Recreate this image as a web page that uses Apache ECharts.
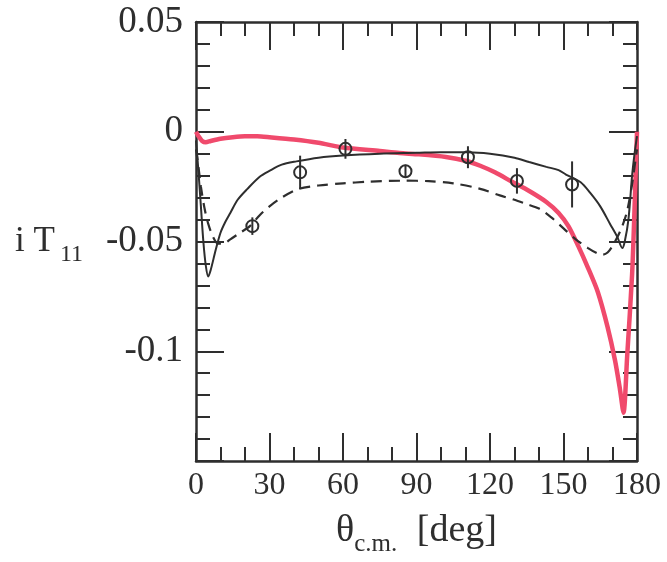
<!DOCTYPE html>
<html>
<head>
<meta charset="utf-8">
<title>iT11 vs theta</title>
<script src="https://cdn.jsdelivr.net/npm/echarts@6/dist/echarts.min.js"></script>
<style>
  html, body { margin: 0; padding: 0; background: #ffffff; }
  #chart { width: 667px; height: 562px; }
</style>
</head>
<body>
<div id="chart"></div>
<script>
// Angles (deg) and iT11 values for the red model curve
const thetaRed = [0, 1, 2.5, 4, 6, 10, 15, 20, 25, 30, 40, 50, 60, 75, 83, 91, 102, 110, 116, 122, 129, 136, 143, 148, 152, 156, 160, 164, 168, 171, 173, 174.5, 176, 178, 179, 180];
const iT11Red  = [0, -0.002, -0.0042, -0.0048, -0.0042, -0.0032, -0.0025, -0.0021, -0.0021, -0.0025, -0.0035, -0.005, -0.0072, -0.0088, -0.0097, -0.0103, -0.0115, -0.0132, -0.0155, -0.0185, -0.0228, -0.027, -0.032, -0.037, -0.043, -0.052, -0.062, -0.073, -0.089, -0.104, -0.117, -0.128, -0.102, -0.065, -0.035, 0];

// Solid black curve
const thetaSolid = [0, 1, 2, 3, 4, 5, 6, 8, 10, 12, 14, 17, 21, 26, 30, 35, 41, 50, 60, 75, 90, 100, 111, 120, 130, 136, 143, 148, 151, 157, 161, 165, 169, 172, 174, 175, 176.5, 178, 179, 180];
const iT11Solid  = [-0.004, -0.018, -0.034, -0.05, -0.061, -0.066, -0.063, -0.054, -0.046, -0.041, -0.037, -0.031, -0.026, -0.0205, -0.0178, -0.015, -0.0135, -0.0118, -0.0108, -0.01, -0.0096, -0.0093, -0.0093, -0.01, -0.0118, -0.0138, -0.016, -0.0175, -0.0195, -0.023, -0.028, -0.034, -0.042, -0.048, -0.053, -0.05, -0.04, -0.02, -0.01, -0.002];

// Dashed black curve
const thetaDashed = [0, 1, 2, 3.5, 5, 7, 9, 11, 14, 18, 22, 26, 30, 35, 42, 50, 60, 70, 85, 95, 105, 116, 124, 130, 135, 140, 145, 150, 155, 160, 164, 166, 168, 170, 172, 174, 176, 178, 179, 180];
const iT11Dashed  = [-0.008, -0.016, -0.025, -0.035, -0.042, -0.048, -0.051, -0.051, -0.049, -0.046, -0.043, -0.038, -0.034, -0.03, -0.026, -0.0245, -0.0235, -0.0228, -0.0223, -0.0225, -0.0235, -0.026, -0.029, -0.031, -0.033, -0.035, -0.039, -0.044, -0.049, -0.053, -0.0555, -0.056, -0.055, -0.052, -0.048, -0.043, -0.036, -0.024, -0.016, -0.008];

// Measured points with errors
const thetaData = [23, 42.5, 61, 85.5, 111, 131, 153.5];
const iT11Data  = [-0.043, -0.0185, -0.0078, -0.018, -0.0116, -0.0224, -0.024];
const iT11Err   = [0.004, 0.0076, 0.0045, 0.003, 0.005, 0.0058, 0.0105];

// Axis tick labels
const xTickStep = 30;
const yTickStep = 0.05;
const yLabelled = [0.05, 0, -0.05, -0.1];

const pairs = (xs, ys) => xs.map((x, i) => [x, ys[i]]);

const serif = '"Liberation Serif", "DejaVu Serif", serif';
const ink = '#2e2e2e';

const frameAxis = {
  axisLine: { show: true, onZero: false, lineStyle: { color: ink, width: 2.5 } },
  axisTick: { show: true, inside: true, length: 28, lineStyle: { color: ink, width: 2 } },
  minorTick: { show: true, length: 14, lineStyle: { color: ink, width: 2 } },
  splitLine: { show: false },
  minorSplitLine: { show: false }
};

const xBase = Object.assign({ type: 'value', min: 0, max: 180, interval: xTickStep }, frameAxis);
xBase.minorTick = Object.assign({}, frameAxis.minorTick, { splitNumber: 3 });
const yBase = Object.assign({ type: 'value', min: -0.15, max: 0.05, interval: yTickStep }, frameAxis);
yBase.minorTick = Object.assign({}, frameAxis.minorTick, { splitNumber: 5 });

const chart = echarts.init(document.getElementById('chart'), null, { renderer: 'canvas' });

chart.setOption({
  backgroundColor: '#ffffff',
  animation: false,
  grid: { left: 196, top: 22, width: 441, height: 439, containLabel: false, outerBoundsMode: 'none' },
  xAxis: [
    Object.assign({}, xBase, {
      position: 'bottom',
      axisLabel: { show: true, margin: 9, color: ink, fontFamily: serif, fontSize: 32 },
      name: 'θ{s|c.m.} [deg]',
      nameLocation: 'middle',
      nameGap: 45,
      nameTextStyle: {
        color: ink, fontFamily: serif, fontSize: 38,
        rich: { s: { fontFamily: serif, fontSize: 25, color: ink, padding: [26, 10, 0, 0] } }
      }
    }),
    Object.assign({}, xBase, { position: 'top', axisLabel: { show: false } })
  ],
  yAxis: [
    Object.assign({}, yBase, {
      position: 'left',
      axisLabel: {
        show: true, margin: 13, color: ink, fontFamily: serif, fontSize: 37,
        formatter: v => {
          const r = Math.round(v * 100) / 100;
          return yLabelled.some(t => Math.abs(t - r) < 1e-9) ? String(r) : '';
        }
      },
      name: 'i T{s|11}',
      nameLocation: 'middle',
      nameRotate: 0,
      nameGap: 113,
      nameTextStyle: {
        color: ink, fontFamily: serif, fontSize: 35, align: 'right',
        rich: { s: { fontFamily: serif, fontSize: 24, color: ink, padding: [26, 0, 0, 5] } }
      }
    }),
    Object.assign({}, yBase, { position: 'right', axisLabel: { show: false } })
  ],
  series: [
    {
      type: 'line', xAxisIndex: 0, yAxisIndex: 0,
      data: pairs(thetaDashed, iT11Dashed),
      showSymbol: false, smooth: 0.3,
      lineStyle: { color: ink, width: 2.2, type: [11, 7] },
      z: 3
    },
    {
      type: 'line', xAxisIndex: 0, yAxisIndex: 0,
      data: pairs(thetaSolid, iT11Solid),
      showSymbol: false, smooth: 0.3,
      lineStyle: { color: ink, width: 2 },
      z: 3
    },
    {
      type: 'line', xAxisIndex: 0, yAxisIndex: 0,
      data: pairs(thetaRed, iT11Red),
      showSymbol: false, smooth: 0.25,
      lineStyle: { color: '#f04a6c', width: 4.5 },
      z: 2
    },
    {
      type: 'custom', xAxisIndex: 0, yAxisIndex: 0,
      data: thetaData.map((t, i) => [t, iT11Data[i], iT11Err[i]]),
      renderItem: (params, api) => {
        const x = api.value(0), y = api.value(1), e = api.value(2);
        const c = api.coord([x, y]);
        const hi = api.coord([x, y + e]);
        const lo = api.coord([x, y - e]);
        return {
          type: 'group',
          children: [
            { type: 'line', shape: { x1: c[0], y1: hi[1], x2: c[0], y2: lo[1] }, style: { stroke: ink, lineWidth: 2 } },
            { type: 'circle', shape: { cx: c[0], cy: c[1], r: 6 }, style: { fill: 'rgba(0,0,0,0)', stroke: ink, lineWidth: 2 } }
          ]
        };
      },
      z: 4
    }
  ]
});
</script>
</body>
</html>
